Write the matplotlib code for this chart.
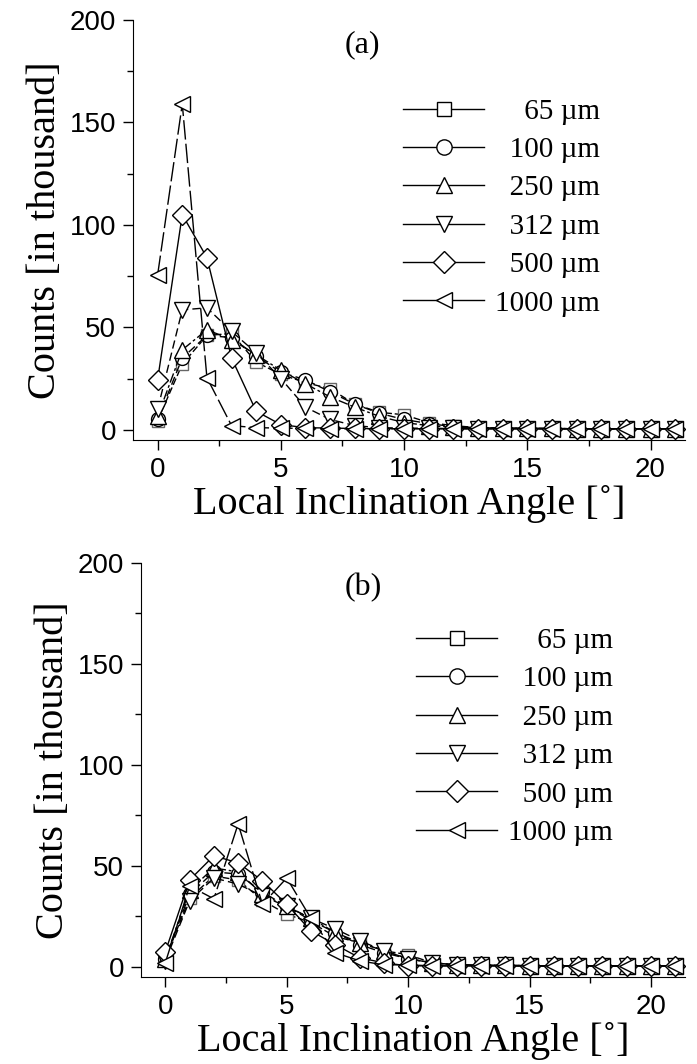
import matplotlib
matplotlib.use("Agg")
import matplotlib.pyplot as plt
import numpy as np

angles = list(range(0, 22))
labels = ["\u2007\u200765 µm", "\u2007100 µm", "\u2007250 µm", "\u2007312 µm", "\u2007500 µm", "1000 µm"]

# Panel (a) counts in thousand
a_65   = [4.5, 32, 46, 47, 33, 27, 23, 20, 12.5, 8.5, 7.3, 3.5, 2, 1, 0.8, 0.7, 0.6, 0.5, 0.5, 0.5, 0.5, 0.5]
a_100  = [5, 35, 46, 45, 36, 28, 24.4, 18.5, 12.5, 8, 5, 3, 1.5, 1, 0.8, 0.7, 0.6, 0.5, 0.5, 0.5, 0.5, 0.5]
a_250  = [6.5, 39, 48.8, 44, 36.6, 29, 22.4, 16, 11, 6.5, 3.5, 2, 1.2, 1, 0.8, 0.7, 0.6, 0.5, 0.5, 0.5, 0.5, 0.5]
a_312  = [10, 58.5, 59.5, 48, 37.5, 25, 11, 5, 2, 1, 0.8, 0.7, 0.6, 0.5, 0.5, 0.5, 0.5, 0.5, 0.5, 0.5, 0.5, 0.5]
a_500  = [24.4, 105, 84, 35, 9, 2.5, 1, 0.8, 0.6, 0.5, 0.5, 0.5, 0.5, 0.5, 0.5, 0.5, 0.5, 0.5, 0.5, 0.5, 0.5, 0.5]
a_1000 = [75.6, 159, 25.4, 2, 1, 0.8, 0.6, 0.5, 0.5, 0.5, 0.5, 0.5, 0.5, 0.5, 0.5, 0.5, 0.5, 0.5, 0.5, 0.5, 0.5, 0.5]

# Panel (b)
b_65   = [4, 34, 45, 43, 33, 26, 22, 15, 12, 8, 6, 2, 1, 0.8, 0.7, 0.6, 0.5, 0.5, 0.5, 0.5, 0.5, 0.5]
b_100  = [4, 36, 47, 46, 37, 30, 23, 17, 11, 7, 4, 2, 1, 0.8, 0.7, 0.6, 0.5, 0.5, 0.5, 0.5, 0.5, 0.5]
b_250  = [4, 38, 49, 47, 36, 30, 24, 17, 12, 8, 4, 2, 1, 0.8, 0.7, 0.6, 0.5, 0.5, 0.5, 0.5, 0.5, 0.5]
b_312  = [3, 32.7, 44, 41, 35, 30, 24, 18.8, 13, 8, 4, 2, 1, 0.8, 0.7, 0.6, 0.5, 0.5, 0.5, 0.5, 0.5, 0.5]
b_500  = [7.4, 43, 55, 51.5, 42.6, 31, 17.8, 11, 4.5, 2, 0.5, 0.5, 0.5, 0.5, 0.5, 0.5, 0.5, 0.5, 0.5, 0.5, 0.5, 0.5]
b_1000 = [2, 40, 33.7, 70.8, 31, 44, 24, 7, 3, 1, 1, 0.5, 0.5, 0.5, 0.5, 0.5, 0.5, 0.5, 0.5, 0.5, 0.5, 0.5]

markers = ["s", "o", "^", "v", "D", "<"]
msizes = [9, 10, 11, 11, 10, 11]
lstyles = [(0, (5, 2)), (0, (6, 3)), (0, (7, 2, 2, 2)), (0, (6, 3)), "-", (0, (14, 3))]
edgecols = ["#666666", "black", "black", "black", "black", "black"]

serif = ["Liberation Serif", "DejaVu Serif"]
sans = ["Liberation Sans", "DejaVu Sans"]

fig = plt.figure(figsize=(6.97, 10.64), dpi=100)

def panel(rect, series, tag, tagx, legx, legy):
    ax = fig.add_axes(rect)
    handles = []
    for i, (y, lab) in enumerate(zip(series, labels)):
        ax.plot(angles, y, linestyle=lstyles[i], color="black", lw=1.0,
                marker=markers[i], ms=msizes[i], mfc="white", mec=edgecols[i],
                mew=1.0, zorder=3 + i)
        h, = ax.plot([], [], linestyle="-", color="black", lw=1.0,
                     marker=markers[i], ms=msizes[i] + 1, mfc="white", mec="black", mew=1.0)
        handles.append(h)
    ax.set_xlim(-1.0, 21.4)
    ax.set_ylim(-5, 200)
    for s in ["top", "right"]:
        ax.spines[s].set_visible(False)
    ax.spines["left"].set_bounds(-5, 200)
    ax.set_xticks([0, 5, 10, 15, 20])
    ax.set_xticks(np.arange(2.5, 21, 5), minor=True)
    ax.set_yticks([0, 50, 100, 150, 200])
    ax.set_yticks([25, 75, 125, 175], minor=True)
    ax.tick_params(which="major", direction="out", length=7, width=1, labelsize=20, pad=5)
    ax.tick_params(which="minor", direction="out", length=4, width=1)
    for t in ax.get_xticklabels() + ax.get_yticklabels():
        t.set_family(sans)
    ax.set_xlabel("Local Inclination Angle [˚]", family=serif, fontsize=29, labelpad=2)
    ax.set_ylabel("Counts [in thousand]", family=serif, fontsize=29, labelpad=4)
    ax.text(tagx, 0.94, tag, transform=ax.transAxes, ha="center", va="center",
            family=serif, fontsize=23)
    ax.legend(handles, labels, loc="center right", bbox_to_anchor=(legx, legy),
              frameon=False, prop={"family": serif, "size": 21},
              handlelength=2.77, handletextpad=0.38, labelspacing=0.41,
              borderaxespad=0, borderpad=0)
    return ax

panel([0.1908, 0.5865, 0.792, 0.3947],
      [a_65, a_100, a_250, a_312, a_500, a_1000], "(a)", 0.415, 0.846, 0.5536)
panel([0.2023, 0.0818, 0.7805, 0.3891],
      [b_65, b_100, b_250, b_312, b_500, b_1000], "(b)", 0.408, 0.868, 0.580)

fig.savefig("out.png", dpi=100)
